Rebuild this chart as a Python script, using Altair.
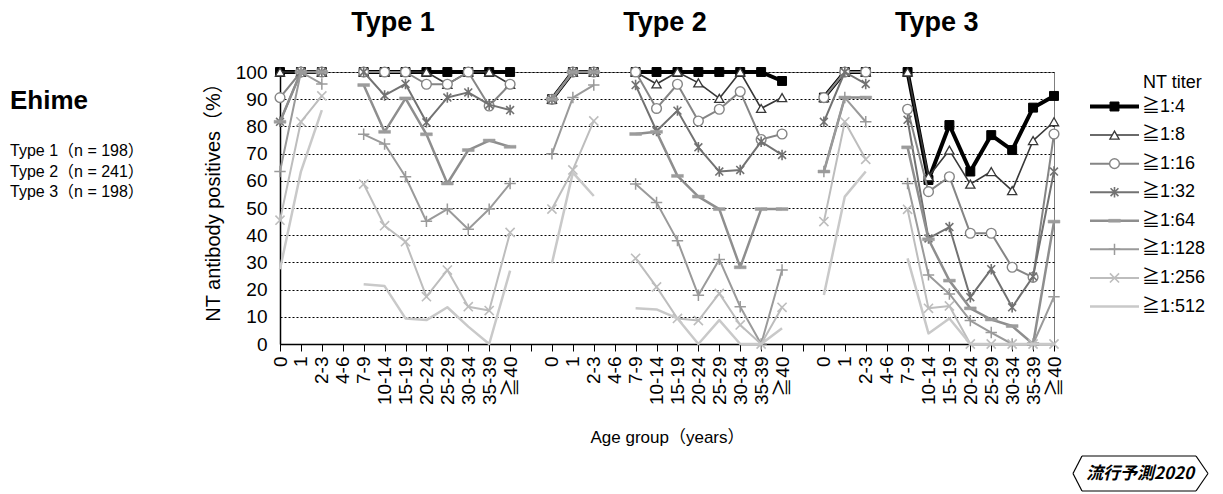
import altair as alt
import pandas as pd

# ---------------- data ----------------
ages = ["0", "1", "2-3", "4-6", "7-9", "10-14", "15-19", "20-24", "25-29", "30-34", "35-39", "≧40"]
types = ["Type 1", "Type 2", "Type 3"]
type_n = [198, 241, 198]
titers = ["≧1:4", "≧1:8", "≧1:16", "≧1:32", "≧1:64", "≧1:128", "≧1:256", "≧1:512"]
region = "Ehime"
badge_text = "流行予測2020"

# Type 1 (4-6 years: no data)
t1_4 = [100, 100, 100, None, 100, 100, 100, 100, 100, 100, 100, 100]
t1_8 = [100, 100, 100, None, 100, 100, 100, 100, 95.5, 100, 100, 95.5]
t1_16 = [90.6, 100, 100, None, 100, 100, 100, 95.5, 95.5, 100, 87.5, 95.5]
t1_32 = [81.7, 100, 100, None, 100, 91.4, 95.6, 81.5, 90.6, 92.5, 88, 86]
t1_64 = [81.7, 100, 100, None, 95.2, 78, 90.3, 77.1, 59, 71.3, 74.8, 72.5]
t1_128 = [63.4, 100, 95.6, None, 77.1, 73.5, 61.5, 45.1, 49.6, 42.2, 49.6, 59]
t1_256 = [45.5, 81.7, 91.2, None, 58.8, 43.5, 37.6, 17.4, 27.2, 13.7, 12.3, 41]
t1_512 = [27.5, 63.4, 86, None, 22, 21.3, 9.4, 8.8, 13.5, 6.4, 0, 27]

# Type 2
t2_4 = [90, 100, 100, None, 100, 100, 100, 100, 100, 100, 100, 96.7]
t2_8 = [90, 100, 100, None, 100, 95.6, 100, 96, 90.3, 100, 86.6, 90.6]
t2_16 = [90, 100, 100, None, 100, 86.6, 95.5, 82, 86.3, 92.8, 75.2, 77.2]
t2_32 = [90, 100, 100, None, 95.2, 78.3, 85.8, 72.3, 63.4, 64, 74.4, 69.5]
t2_64 = [90, 100, 100, None, 77.2, 78, 61.8, 54.2, 49.6, 28.2, 49.6, 49.6]
t2_128 = [69.9, 90.6, 95.2, None, 58.8, 52, 38, 17.9, 31.1, 13.7, 0, 27.2]
t2_256 = [49.6, 64, 82, None, 31.5, 21, 9.4, 8.6, 18.6, 7, 0, 13.5]
t2_512 = [29.7, 63, 54.4, None, 13.1, 12.7, 9.4, 0, 8.8, 0, 0, 5.8]

# Type 3
t3_4 = [90.6, 100, 100, None, 100, 60.3, 80.5, 63.4, 76.8, 71.3, 86.9, 91.2]
t3_8 = [90.6, 100, 100, None, 100, 61.5, 71.3, 58.8, 63.4, 56.4, 74.8, 81.7]
t3_16 = [90.6, 100, 100, None, 86.3, 56, 61.5, 40.7, 40.7, 28.2, 24.5, 77.2]
t3_32 = [81.7, 100, 95.6, None, 82.4, 38.8, 43, 17.2, 27.5, 13.5, 24.8, 63.4]
t3_64 = [63.4, 90.6, 90.6, None, 72.3, 38.5, 23.3, 13.1, 9, 6.6, 0, 45]
t3_128 = [63.4, 90.6, 81.7, None, 59, 25.4, 18.4, 8.6, 4.2, 0, 0, 17.4]
t3_256 = [45, 81.7, 67.9, None, 49.5, 13.1, 14, 0, 0, 0, 0, 0]
t3_512 = [18, 54.2, 63.4, None, 31.5, 3.9, 9.4, 0, 0, 0, 0, 0]

series = {
    "Type 1": [t1_4, t1_8, t1_16, t1_32, t1_64, t1_128, t1_256, t1_512],
    "Type 2": [t2_4, t2_8, t2_16, t2_32, t2_64, t2_128, t2_256, t2_512],
    "Type 3": [t3_4, t3_8, t3_16, t3_32, t3_64, t3_128, t3_256, t3_512],
}

# ---------------- tidy table ----------------
block = len(ages) + 1  # one empty slot between types
rows = []
for ti, tname in enumerate(types):
    for si, tit in enumerate(titers):
        for ai, age in enumerate(ages):
            v = series[tname][si][ai]
            if v is None:
                continue
            seg = 0 if ai < 3 else 1
            rows.append({"type": tname, "titer": tit, "age": age,
                         "x": ti * block + ai, "value": v,
                         "grp": f"{tname}-{seg}"})
df = pd.DataFrame(rows)
n_pos = block * len(types) - 1  # 38 positions (0..37)

tick_labels = [(ages[i % block] if i % block < len(ages) else "") for i in range(n_pos)]
label_expr = "[" + ",".join("'" + s + "'" for s in tick_labels) + "][datum.value]"

# ---------------- styles ----------------
FONT = "Liberation Sans, Arial, Noto Sans CJK JP, sans-serif"
CJK = "Noto Sans CJK JP, Liberation Sans, sans-serif"
W, H = 774, 272

ASTER = "M-0.75,-0.75L0.75,0.75M-0.75,0.75L0.75,-0.75M0,-1L0,1"
DASH = "M-1,-0.25L1,-0.25L1,0.25L-1,0.25Z"
PLUS = "M-1,0L1,0M0,-1L0,1"
XMARK = "M-0.8,-0.8L0.8,0.8M-0.8,0.8L0.8,-0.8"

styles = {
    "≧1:4":   dict(color="#000000", width=4.0, shape="square", size=80, fill="#000000", stroke="#000000", sw=1.0),
    "≧1:8":   dict(color="#383838", width=1.6, shape="triangle-up", size=85, fill="#ffffff", stroke="#383838", sw=1.3),
    "≧1:16":  dict(color="#858585", width=2.0, shape="circle", size=95, fill="#ffffff", stroke="#858585", sw=1.4),
    "≧1:32":  dict(color="#727272", width=2.0, shape=ASTER, size=110, fill=None, stroke="#727272", sw=1.6),
    "≧1:64":  dict(color="#8e8e8e", width=2.5, shape=DASH, size=140, fill="#9c9c9c", stroke="#9c9c9c", sw=0.5),
    "≧1:128": dict(color="#9a9a9a", width=2.0, shape=PLUS, size=130, fill=None, stroke="#9a9a9a", sw=1.5),
    "≧1:256": dict(color="#bdbdbd", width=2.0, shape=XMARK, size=130, fill=None, stroke="#bdbdbd", sw=1.6),
    "≧1:512": dict(color="#c9c9c9", width=2.5, shape=None),
}

xscale = alt.Scale(domain=[0, n_pos - 1], nice=False, zero=False)
yscale = alt.Scale(domain=[0, 100], nice=False)

xaxis = alt.Axis(values=list(range(n_pos)), labelExpr=label_expr, labelAngle=270,
                 labelFontSize=19, labelColor="#000", labelFont=FONT, labelOverlap=False,
                 labelFlush=False, labelPadding=5, tickColor="#000", tickSize=7,
                 domainColor="#000", domainWidth=1.5, grid=False,
                 title="Age group（years）", titleFont=FONT, titleFontSize=17,
                 titleFontWeight="normal", titleColor="#000", titlePadding=25)
yaxis = alt.Axis(values=list(range(0, 101, 10)), grid=True, gridColor="#000", gridDash=[2, 2],
                 gridWidth=1, ticks=False, labelFontSize=19, labelColor="#000", labelFont=FONT,
                 labelPadding=13, domainColor="#000", domainWidth=1.5,
                 title="NT antibody positives（%）", titleFont=FONT, titleFontSize=20,
                 titleFontWeight="normal", titleColor="#000", titlePadding=12, titleY=125)

X = alt.X("x:Q", scale=xscale, axis=xaxis)
Y = alt.Y("value:Q", scale=yscale, axis=yaxis)

main_layers = []
for tit in titers:
    st = styles[tit]
    sub = df[df["titer"] == tit]
    main_layers.append(
        alt.Chart(sub).mark_line(color=st["color"], strokeWidth=st["width"], strokeJoin="round")
        .encode(x=X, y=Y, detail="grp:N", order="x:Q")
    )
    if st["shape"] is not None:
        kw = dict(shape=st["shape"], size=st["size"], stroke=st["stroke"],
                  strokeWidth=st["sw"], opacity=1)
        if st["fill"] is not None:
            kw["fill"] = st["fill"]
            kw["filled"] = True
            kw["fillOpacity"] = 1
        else:
            kw["filled"] = False
        main_layers.append(alt.Chart(sub).mark_point(**kw).encode(x=X, y=Y))

# type headers placed through the x scale at the middle of each block
head_df = pd.DataFrame({"type": types, "xc": [i * block + 5.4 for i in range(len(types))]})
main_layers.append(
    alt.Chart(head_df).mark_text(fontSize=27, fontWeight="bold", font=FONT, color="#000",
                                 baseline="alphabetic", align="center")
    .encode(x=alt.X("xc:Q", scale=xscale, axis=xaxis), y=alt.value(-41), text="type:N")
)

# left annotation block
main_layers.append(
    alt.Chart(pd.DataFrame({"t": [region]})).mark_text(
        fontSize=26, fontWeight="bold", font=FONT, color="#000", align="left", baseline="alphabetic")
    .encode(x=alt.value(-270), y=alt.value(37), text="t:N")
)
n_df = pd.DataFrame({"t": [f"{t}（n = {n}）" for t, n in zip(types, type_n)], "k": [0, 1, 2]})
for k in range(len(types)):
    main_layers.append(
        alt.Chart(n_df[n_df["k"] == k]).mark_text(
            fontSize=16, font=FONT, color="#000", align="left", baseline="middle")
        .encode(x=alt.value(-270), y=alt.value(79 + 20.5 * k), text="t:N")
    )

# badge bottom right
badge_segments = [
    (793, 401.5, 802, 384), (802, 384, 916, 384), (916, 384, 928, 401.5),
    (928, 401.5, 916, 419), (916, 419, 802, 419), (802, 419, 793, 401.5),
]
for (a, b, c, d) in badge_segments:
    main_layers.append(
        alt.Chart(pd.DataFrame({"k": [0]})).mark_rule(color="#000", strokeWidth=1.2)
        .encode(x=alt.value(a), y=alt.value(b), x2=alt.value(c), y2=alt.value(d))
    )
main_layers.append(
    alt.Chart(pd.DataFrame({"t": [badge_text]})).mark_text(
        fontSize=17, fontWeight="bold", fontStyle="italic", font=CJK, color="#000",
        align="center", baseline="middle")
    .encode(x=alt.value(860), y=alt.value(402), text="t:N")
)

main = alt.layer(*main_layers)

# ---------------- custom legend ----------------
leg_df = pd.DataFrame({"titer": titers, "row": list(range(len(titers))),
                       "x0": 0.0, "x1": 1.0, "xm": 0.5})
lx = alt.Scale(domain=[0, 1], range=[810, 859])
ly = alt.Scale(domain=[0, len(titers) - 1], range=[34.5, 234.5])
LY = alt.Y("row:Q", scale=ly, axis=None)

leg_layers = []
for tit in titers:
    st = styles[tit]
    sub = leg_df[leg_df["titer"] == tit]
    leg_layers.append(
        alt.Chart(sub).mark_rule(color=st["color"], strokeWidth=st["width"])
        .encode(x=alt.X("x0:Q", scale=lx, axis=None), x2="x1:Q", y=LY)
    )
    if st["shape"] is not None:
        kw = dict(shape=st["shape"], size=st["size"], stroke=st["stroke"],
                  strokeWidth=st["sw"], opacity=1)
        if st["fill"] is not None:
            kw["fill"] = st["fill"]
            kw["filled"] = True
            kw["fillOpacity"] = 1
        else:
            kw["filled"] = False
        leg_layers.append(alt.Chart(sub).mark_point(**kw)
                          .encode(x=alt.X("xm:Q", scale=lx, axis=None), y=LY))
leg_layers.append(
    alt.Chart(leg_df).mark_text(align="left", baseline="middle", dx=3, fontSize=18,
                                font=FONT, color="#000")
    .encode(x=alt.X("x1:Q", scale=lx, axis=None), y=LY, text="titer:N")
)
leg_layers.append(
    alt.Chart(pd.DataFrame({"t": ["NT titer"]})).mark_text(
        align="left", baseline="middle", fontSize=18, font=FONT, color="#000")
    .encode(x=alt.value(863), y=alt.value(11), text="t:N")
)
legend = alt.layer(*leg_layers)

chart = (
    alt.layer(main, legend)
    .resolve_scale(x="independent", y="independent")
    .properties(width=W, height=H,
                padding={"left": 272, "top": 64, "right": 161, "bottom": 150},
                autosize=alt.AutoSizeParams(type="none"))
    .configure(font=FONT)
    .configure_view(stroke="#7f7f7f", strokeWidth=1)
)

chart.save("out.html", embed_options={"renderer": "svg", "actions": False})
